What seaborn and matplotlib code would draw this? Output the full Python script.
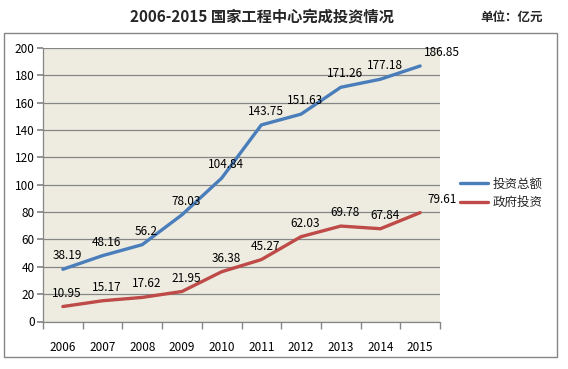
import matplotlib
matplotlib.use("Agg")
import matplotlib.pyplot as plt
import seaborn as sns
import pandas as pd
from matplotlib.patches import Rectangle
from matplotlib.ticker import MultipleLocator

years = ["2006", "2007", "2008", "2009", "2010", "2011", "2012", "2013", "2014", "2015"]
total = [38.19, 48.16, 56.2, 78.03, 104.84, 143.75, 151.63, 171.26, 177.18, 186.85]
gov = [10.95, 15.17, 17.62, 21.95, 36.38, 45.27, 62.03, 69.78, 67.84, 79.61]
series_names = ["投资总额", "政府投资"]
title = "2006-2015 国家工程中心完成投资情况"
unit = "单位：亿元"

sns.set_theme(style="white")
plt.rcParams['font.family'] = ['Noto Sans CJK SC', 'DejaVu Sans']

df = pd.DataFrame({
    "year": years * 2,
    "value": total + gov,
    "series": [series_names[0]] * len(years) + [series_names[1]] * len(years),
})

fig = plt.figure(figsize=(5.68, 3.69), dpi=100)
ax = fig.add_axes([43/568, 1-321.5/369, (440-43)/568, (321.5-48)/369])
ax.set_facecolor("#EEECE1")

colors = {series_names[0]: "#4A7EBB", series_names[1]: "#BE4B48"}
sns.lineplot(data=df, x="year", y="value", hue="series", palette=colors,
             linewidth=2.4, ax=ax, sort=False, legend=True)

ax.set_xlim(-0.5, len(years) - 0.5)
ax.set_ylim(0, 200)
ax.yaxis.set_major_locator(MultipleLocator(20))
ax.grid(axis="y", color="#868686", linewidth=0.9)
ax.grid(axis="x", visible=False)
ax.set_axisbelow(True)
for s in ["top", "right"]:
    ax.spines[s].set_visible(False)
for s in ["left", "bottom"]:
    ax.spines[s].set_color("#868686")
    ax.spines[s].set_linewidth(0.9)
ax.set_xlabel("")
ax.set_ylabel("")
ax.tick_params(axis="y", which="major", left=True, length=4, color="#868686",
               labelsize=8.5, pad=2, labelcolor="black")
ax.tick_params(axis="x", which="major", bottom=False, labelsize=8.5, pad=8, labelcolor="black")
ax.set_xticks([i - 0.5 for i in range(len(years) + 1)], minor=True)
ax.tick_params(axis="x", which="minor", bottom=True, length=5, color="#868686")

for vals in (total, gov):
    for i, v in enumerate(vals):
        dx = 16 if i == len(vals) - 1 else 3
        ax.annotate(f"{v:g}", (i, v), xytext=(dx, 5), textcoords="offset points",
                    ha="center", va="bottom", fontsize=8.5, color="black")

ax.legend(loc="center left", bbox_to_anchor=(451/568, 1-193.5/369),
          bbox_transform=fig.transFigure, frameon=False, fontsize=9,
          handlelength=2.25, handletextpad=0.4, labelspacing=0.45, title=None,
          borderaxespad=0.3)

fig.text(262/568, 1-17/369, title, ha="center", va="center", fontsize=11, fontweight="bold")
fig.text(512/568, 1-17/369, unit, ha="center", va="center", fontsize=9, fontweight="bold")

fig.patches.append(Rectangle((4/568, 1-357/369), (557-4)/568, (357-33)/369,
                             transform=fig.transFigure, fill=False,
                             edgecolor="#868686", linewidth=1.0))

fig.savefig("out.png", dpi=100)
